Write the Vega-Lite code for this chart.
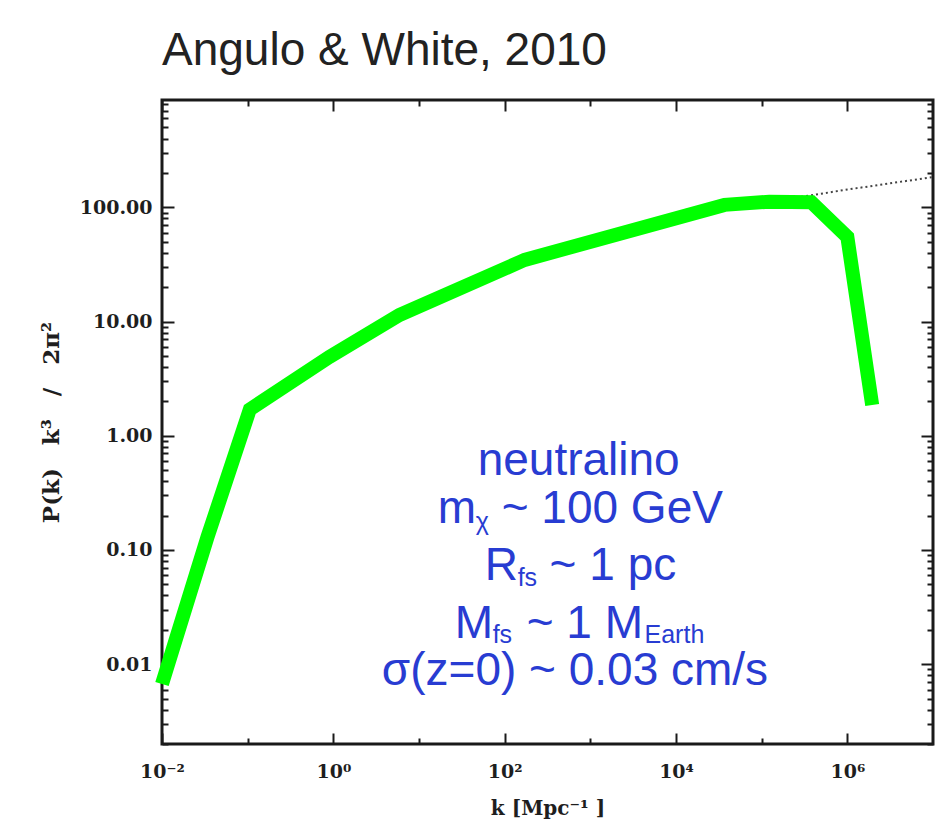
{
  "$schema": "https://vega.github.io/schema/vega-lite/v6.json",
  "width": 771,
  "height": 644,
  "autosize": {"type": "none"},
  "padding": {"left": 162, "top": 100, "right": 6, "bottom": 85},
  "background": "white",
  "title": {
    "text": "Angulo & White, 2010",
    "anchor": "start",
    "frame": "group",
    "font": "Liberation Sans",
    "fontSize": 46,
    "fontWeight": "normal",
    "color": "#222222",
    "baseline": "alphabetic",
    "offset": -16
  },
  "config": {
    "view": {"stroke": "#1a1a1a", "strokeWidth": 3},
    "axis": {
      "domain": false,
      "grid": false,
      "tickColor": "#1a1a1a",
      "tickWidth": 2,
      "labelFont": "DejaVu Serif",
      "labelFontWeight": "bold",
      "labelFontSize": 19,
      "labelColor": "#1e1e1e",
      "labelFlush": false,
      "labelBound": false,
      "labelOverlap": false,
      "titleFont": "DejaVu Serif",
      "titleFontWeight": "bold",
      "titleFontSize": 20,
      "titleColor": "#1e1e1e"
    }
  },
  "datasets": {
    "curve": [
      {"k": 0.01, "P": 0.0067},
      {"k": 0.034, "P": 0.13},
      {"k": 0.106, "P": 1.7},
      {"k": 0.9, "P": 4.9},
      {"k": 5.9, "P": 11.4},
      {"k": 171, "P": 34.6},
      {"k": 36800, "P": 105},
      {"k": 123000, "P": 112},
      {"k": 380000, "P": 111},
      {"k": 1000000, "P": 55},
      {"k": 1950000, "P": 1.86}
    ],
    "linear": [
      {"k": 100000, "P": 109},
      {"k": 1000000, "P": 143},
      {"k": 10000000, "P": 184}
    ],
    "mainText": [
      {"label": "neutralino", "k": 48.4, "P": 0.4531},
      {"label": "m", "k": 16.55, "P": 0.1722},
      {"label": "~ 100 GeV", "k": 92.3, "P": 0.1722},
      {"label": "R", "k": 58.5, "P": 0.05454},
      {"label": "~ 1 pc", "k": 334.8, "P": 0.05454},
      {"label": "M", "k": 26.1, "P": 0.01694},
      {"label": "~ 1 M", "k": 180.5, "P": 0.01694},
      {"label": "σ(z=0) ~ 0.03 cm/s", "k": 3.68, "P": 0.00655}
    ],
    "subText": [
      {"label": "χ", "k": 45.9, "P": 0.1495},
      {"label": "fs", "k": 141.8, "P": 0.04833},
      {"label": "fs", "k": 72.4, "P": 0.01532},
      {"label": "Earth", "k": 4292, "P": 0.01532}
    ]
  },
  "layer": [
    {
      "data": {"name": "linear"},
      "mark": {"type": "line", "color": "#444444", "strokeWidth": 2, "strokeDash": [2, 3]},
      "encoding": {
        "x": {
          "field": "k", "type": "quantitative",
          "scale": {"type": "log", "domain": [0.01, 10000000]},
          "axis": {
            "orient": "top",
            "labels": false,
            "title": null,
            "values": [0.01, 0.1, 1, 10, 100, 1000, 10000, 100000, 1000000],
            "tickSize": {"condition": {"test": "round(log(datum.value)/LN10) % 2 == 0", "value": -11}, "value": -6}
          }
        },
        "y": {
          "field": "P", "type": "quantitative",
          "scale": {"type": "log", "domain": [0.002, 870]},
          "axis": {
            "orient": "right",
            "labels": false,
            "title": null,
            "values": [0.002,0.003,0.004,0.005,0.006,0.007,0.008,0.009,0.01,0.02,0.03,0.04,0.05,0.06,0.07,0.08,0.09,0.1,0.2,0.3,0.4,0.5,0.6,0.7,0.8,0.9,1,2,3,4,5,6,7,8,9,10,20,30,40,50,60,70,80,90,100,200,300,400,500,600,700,800],
            "tickSize": {"condition": {"test": "abs(log(datum.value)/LN10 - round(log(datum.value)/LN10)) < 0.01", "value": -12}, "value": -6}
          }
        }
      }
    },
    {
      "data": {"name": "curve"},
      "mark": {"type": "line", "color": "#00ff00", "strokeWidth": 14, "strokeJoin": "miter", "strokeCap": "butt", "clip": false},
      "encoding": {
        "x": {
          "field": "k", "type": "quantitative",
          "scale": {"type": "log", "domain": [0.01, 10000000]},
          "axis": {
            "orient": "bottom",
            "title": "k [Mpc⁻¹ ]",
            "titlePadding": 12,
            "values": [0.01, 0.1, 1, 10, 100, 1000, 10000, 100000, 1000000],
            "labelExpr": "round(log(datum.value)/LN10) == -2 ? '10⁻²' : round(log(datum.value)/LN10) == 0 ? '10⁰' : round(log(datum.value)/LN10) == 2 ? '10²' : round(log(datum.value)/LN10) == 4 ? '10⁴' : round(log(datum.value)/LN10) == 6 ? '10⁶' : ''",
            "labelPadding": 29,
            "tickSize": {"condition": {"test": "round(log(datum.value)/LN10) % 2 == 0", "value": -11}, "value": -6}
          }
        },
        "y": {
          "field": "P", "type": "quantitative",
          "scale": {"type": "log", "domain": [0.002, 870]},
          "axis": {
            "orient": "left",
            "title": "P(k)\u2003k³\u2003/\u20032π²",
            "titleFontSize": 23,
            "titlePadding": 16,
            "values": [0.002,0.003,0.004,0.005,0.006,0.007,0.008,0.009,0.01,0.02,0.03,0.04,0.05,0.06,0.07,0.08,0.09,0.1,0.2,0.3,0.4,0.5,0.6,0.7,0.8,0.9,1,2,3,4,5,6,7,8,9,10,20,30,40,50,60,70,80,90,100,200,300,400,500,600,700,800],
            "labelExpr": "abs(log(datum.value)/LN10 - round(log(datum.value)/LN10)) < 0.01 ? format(datum.value, '.2f') : ''",
            "labelPadding": 22,
            "tickSize": {"condition": {"test": "abs(log(datum.value)/LN10 - round(log(datum.value)/LN10)) < 0.01", "value": -12}, "value": -6}
          }
        }
      }
    },
    {
      "data": {"name": "mainText"},
      "mark": {"type": "text", "align": "left", "baseline": "alphabetic", "font": "Liberation Sans", "fontSize": 46, "color": "#283cd2"},
      "encoding": {
        "x": {"field": "k", "type": "quantitative", "scale": {"type": "log", "domain": [0.01, 10000000]}, "axis": null},
        "y": {"field": "P", "type": "quantitative", "scale": {"type": "log", "domain": [0.002, 870]}, "axis": null},
        "text": {"field": "label"}
      }
    },
    {
      "data": {"name": "subText"},
      "mark": {"type": "text", "align": "left", "baseline": "alphabetic", "font": "Liberation Sans", "fontSize": 25, "color": "#283cd2"},
      "encoding": {
        "x": {"field": "k", "type": "quantitative", "scale": {"type": "log", "domain": [0.01, 10000000]}, "axis": null},
        "y": {"field": "P", "type": "quantitative", "scale": {"type": "log", "domain": [0.002, 870]}, "axis": null},
        "text": {"field": "label"}
      }
    }
  ],
  "resolve": {"axis": {"x": "independent", "y": "independent"}}
}
